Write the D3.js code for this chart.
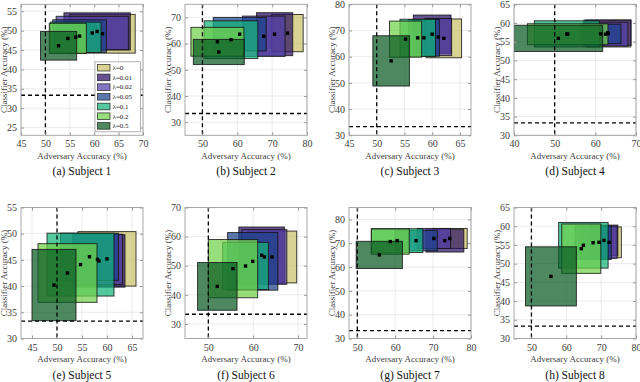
<!DOCTYPE html>
<html>
<head>
<meta charset="utf-8">
<script src="https://cdnjs.cloudflare.com/ajax/libs/d3/7.8.5/d3.min.js"></script>
<style>
  body { margin: 0; background: #fff; }
  text { font-family: "Liberation Serif", "Times New Roman", serif; }
</style>
</head>
<body>
<script>
// lambda order: 0, 0.01, 0.02, 0.05, 0.1, 0.2, 0.5
var lambdaLabels = ["λ=0", "λ=0.01", "λ=0.02", "λ=0.05", "λ=0.1", "λ=0.2", "λ=0.5"];
var lambdaColors = ["#c9c069", "#2a0f63", "#5540ab", "#1c438b", "#14b478", "#71d14b", "#0a5a22"];

var subtitles = ["(a) Subject 1", "(b) Subject 2", "(c) Subject 3", "(d) Subject 4",
                 "(e) Subject 5", "(f) Subject 6", "(g) Subject 7", "(h) Subject 8"];

// mean / std of adversary accuracy, one row per subject
var advMean = [
  [61.7, 60.6, 59.6, 57.0, 56.2, 54.6, 52.7],
  [74.4, 70.7, 67.6, 60.7, 58.2, 54.3, 54.7],
  [62.1, 60.0, 61.1, 58.5, 57.4, 55.2, 52.6],
  [63.2, 63.0, 62.5, 61.3, 53.0, 53.2, 50.9],
  [60.0, 58.4, 58.1, 56.5, 54.7, 52.1, 49.4],
  [64.2, 61.9, 62.5, 59.9, 58.3, 55.5, 52.0],
  [74.4, 73.1, 70.2, 65.5, 60.5, 58.7, 55.8],
  [72.3, 70.8, 69.4, 67.7, 64.9, 64.3, 55.6]
];
var advStd = [
  [6.7, 6.8, 7.4, 5.5, 5.2, 3.8, 3.7],
  [4.5, 5.2, 6.1, 7.6, 7.7, 7.6, 7.3],
  [3.2, 3.4, 2.4, 2.8, 3.2, 2.9, 3.3],
  [5.5, 5.8, 5.5, 5.0, 8.0, 9.9, 10.9],
  [5.8, 5.2, 5.0, 5.8, 6.7, 5.9, 4.4],
  [5.5, 5.1, 5.0, 5.6, 5.1, 5.5, 4.4],
  [4.6, 5.0, 4.4, 5.6, 6.8, 5.0, 6.1],
  [3.5, 4.0, 5.2, 5.2, 7.1, 5.6, 7.3]
];
// mean / std of classifier accuracy
var clfMean = [
  [49.2, 49.8, 49.4, 48.6, 48.3, 48.0, 46.1],
  [64.0, 63.6, 62.8, 63.6, 61.5, 60.7, 56.8],
  [67.0, 68.6, 67.5, 67.2, 67.2, 66.7, 58.4],
  [57.2, 57.4, 57.0, 57.1, 57.1, 57.0, 55.9],
  [45.2, 44.8, 45.1, 45.6, 44.1, 42.5, 40.2],
  [53.0, 53.6, 53.0, 51.5, 49.9, 49.0, 42.9],
  [72.0, 71.1, 72.0, 71.1, 71.1, 70.7, 65.1],
  [55.7, 56.2, 55.7, 55.6, 54.9, 54.0, 46.6]
];
var clfStd = [
  [5.0, 4.8, 4.3, 4.2, 3.9, 3.9, 3.7],
  [7.1, 8.2, 7.7, 6.4, 7.2, 5.5, 4.8],
  [7.4, 7.3, 7.1, 7.0, 7.1, 6.9, 9.6],
  [3.6, 3.4, 3.2, 2.6, 3.5, 2.8, 3.5],
  [5.2, 5.0, 4.8, 4.5, 6.0, 5.6, 6.8],
  [8.9, 9.7, 9.4, 9.9, 8.1, 10.0, 8.2],
  [4.2, 4.8, 4.2, 4.3, 5.0, 5.3, 5.7],
  [4.1, 4.1, 4.3, 4.5, 6.1, 6.6, 7.9]
];

var xLimits = [[45, 70], [45, 80], [45, 67], [40, 70], [42.8, 67.2], [44.8, 72], [47.8, 80], [45, 80]];
var yLimits = [[23, 56.8], [25, 75], [30, 80], [30, 65], [30, 55], [25, 70], [30, 85], [30, 65]];
var xTicks = [
  [45, 50, 55, 60, 65, 70], [50, 60, 70, 80], [45, 50, 55, 60, 65], [40, 50, 60, 70],
  [45, 50, 55, 60, 65], [50, 60, 70], [50, 60, 70, 80], [50, 60, 70, 80]
];
var yTicks = [
  [25, 30, 35, 40, 45, 50, 55], [30, 40, 50, 60, 70], [30, 40, 50, 60, 70, 80], [30, 35, 40, 45, 50, 55, 60, 65],
  [30, 35, 40, 45, 50, 55], [30, 40, 50, 60, 70], [30, 40, 50, 60, 70, 80], [30, 35, 40, 45, 50, 55, 60, 65]
];

var chanceAdv = 50, chanceClf = 33.33;

var width = 640, height = 382;
var colLeft = [21, 185, 349, 514];
var rowTop = [4.3, 207.5];
var pw = 122, ph = 131;

var svg = d3.select("body").append("svg")
  .attr("width", width)
  .attr("height", height);

function drawPanel(i) {
  var left = colLeft[i % 4], top = rowTop[Math.floor(i / 4)];
  var xScale = d3.scaleLinear().domain(xLimits[i]).range([0, pw]);
  var yScale = d3.scaleLinear().domain(yLimits[i]).range([ph, 0]);

  var g = svg.append("g").attr("transform", "translate(" + left + "," + top + ")");

  g.append("clipPath").attr("id", "clip" + i)
    .append("rect").attr("width", pw).attr("height", ph);

  // grid
  g.selectAll(".gx").data(xTicks[i]).enter().append("line")
    .attr("x1", function(d){return xScale(d)}).attr("x2", function(d){return xScale(d)})
    .attr("y1", 0).attr("y2", ph)
    .style("stroke", "#e6e6e6").style("stroke-width", 0.8);
  g.selectAll(".gy").data(yTicks[i]).enter().append("line")
    .attr("y1", function(d){return yScale(d)}).attr("y2", function(d){return yScale(d)})
    .attr("x1", 0).attr("x2", pw)
    .style("stroke", "#e6e6e6").style("stroke-width", 0.8);

  var rows = lambdaLabels.map(function(l, k){
    return {k: k, adv: advMean[i][k], advSd: advStd[i][k], clf: clfMean[i][k], clfSd: clfStd[i][k]};
  });

  var plot = g.append("g").attr("clip-path", "url(#clip" + i + ")");

  plot.selectAll("rect.box").data(rows).enter().append("rect")
    .attr("class", "box")
    .attr("x", function(d){return xScale(d.adv - d.advSd)})
    .attr("y", function(d){return yScale(d.clf + d.clfSd)})
    .attr("width", function(d){return xScale(d.adv + d.advSd) - xScale(d.adv - d.advSd)})
    .attr("height", function(d){return yScale(d.clf - d.clfSd) - yScale(d.clf + d.clfSd)})
    .style("fill", function(d){return lambdaColors[d.k]})
    .style("fill-opacity", 0.72)
    .style("stroke", "#111")
    .style("stroke-opacity", 0.8)
    .style("stroke-width", 1);

  // chance levels
  plot.append("line")
    .attr("x1", xScale(chanceAdv)).attr("x2", xScale(chanceAdv))
    .attr("y1", 0).attr("y2", ph)
    .style("stroke", "#000").style("stroke-width", 1.3).style("stroke-dasharray", "4,3");
  plot.append("line")
    .attr("x1", 0).attr("x2", pw)
    .attr("y1", yScale(chanceClf)).attr("y2", yScale(chanceClf))
    .style("stroke", "#000").style("stroke-width", 1.3).style("stroke-dasharray", "4,3");

  // means
  plot.selectAll("rect.mean").data(rows).enter().append("rect")
    .attr("class", "mean")
    .attr("x", function(d){return xScale(d.adv) - 1.7})
    .attr("y", function(d){return yScale(d.clf) - 1.7})
    .attr("width", 3.4).attr("height", 3.4)
    .style("fill", "#000");

  // axes
  var xAxis = d3.axisBottom(xScale).tickValues(xTicks[i]).tickSize(-3).tickPadding(5);
  var yAxis = d3.axisLeft(yScale).tickValues(yTicks[i]).tickSize(-3).tickPadding(4);
  var ax = g.append("g").attr("transform", "translate(0," + ph + ")").call(xAxis);
  var ay = g.append("g").call(yAxis);
  var axT = g.append("g").call(d3.axisTop(xScale).tickValues(xTicks[i]).tickSize(-3).tickFormat(""));
  var ayR = g.append("g").attr("transform", "translate(" + pw + ",0)")
    .call(d3.axisRight(yScale).tickValues(yTicks[i]).tickSize(-3).tickFormat(""));
  [ax, ay, axT, ayR].forEach(function(a){
    a.select(".domain").remove();
    a.selectAll("line").style("stroke", "#9a9a9a");
    a.selectAll("text").style("font-size", "10px").style("fill", "#404040")
      .style("font-family", "'Liberation Serif', serif");
  });

  g.append("rect").attr("width", pw).attr("height", ph)
    .style("fill", "none").style("stroke", "#a0a0a0").style("stroke-width", 0.9);

  g.append("text")
    .attr("x", pw / 2).attr("y", ph + 23.5)
    .attr("text-anchor", "middle")
    .style("font-size", "9px").style("fill", "#404040")
    .text("Adversary Accuracy (%)");
  g.append("text")
    .attr("transform", "translate(-14," + (ph / 2) + ") rotate(-90)")
    .attr("text-anchor", "middle")
    .style("font-size", "9px").style("fill", "#404040")
    .text("Classifier Accuracy (%)");
  g.append("text")
    .attr("x", pw / 2).attr("y", ph + 40)
    .attr("text-anchor", "middle")
    .style("font-size", "11.5px").style("fill", "#111")
    .text(subtitles[i]);

  if (i == 0) drawLegend(g);
}

function drawLegend(g) {
  var lg = g.append("g").attr("transform", "translate(74,57.5)");
  lg.append("rect").attr("width", 45.5).attr("height", 70)
    .style("fill", "#fff").style("stroke", "#a0a0a0").style("stroke-width", 0.8);
  var items = lg.selectAll("g.item").data(lambdaLabels).enter().append("g")
    .attr("transform", function(d, k){return "translate(2.5," + (5.9 + k * 9.7) + ")"});
  items.append("rect")
    .attr("y", -3.3).attr("width", 12.5).attr("height", 6.6)
    .style("fill", function(d, k){return lambdaColors[k]})
    .style("fill-opacity", 0.72)
    .style("stroke", "#111").style("stroke-opacity", 0.8).style("stroke-width", 0.8);
  items.append("text")
    .attr("x", 15).attr("dy", "0.33em")
    .style("font-size", "7px").style("fill", "#222")
    .text(function(d){return d});
}

for (var i = 0; i < 8; i++) drawPanel(i);
</script>
</body>
</html>
